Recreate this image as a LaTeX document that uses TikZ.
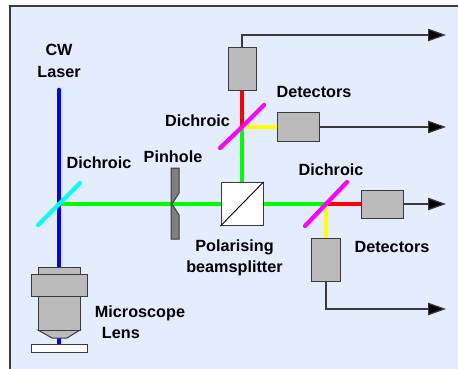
\documentclass[tikz,border=0pt]{standalone}
\usepackage{fontspec}
\setmainfont{Liberation Sans}
\usetikzlibrary{arrows.meta,positioning}
\definecolor{panel}{HTML}{E3EDFE}
\definecolor{framegray}{HTML}{3A3A3A}
\definecolor{partgray}{HTML}{BBBBBB}
\definecolor{pingray}{HTML}{808080}
\definecolor{beamblue}{HTML}{0000FF}
\definecolor{beamgreen}{HTML}{00FF00}
\definecolor{beamred}{HTML}{FF0000}
\definecolor{beamyellow}{HTML}{FFFF00}
\definecolor{mirrorcyan}{HTML}{00FFFF}
\definecolor{mirrorpink}{HTML}{FF00FF}
\tikzset{
  lbl/.style={inner sep=0pt, align=center, font=\fontsize{16.2}{21.5}\selectfont\bfseries, text=black},
  beam/.style={line width=4.6pt},
  mirror/.style={line width=4.2pt, line cap=round},
  detbox/.style={draw=framegray, fill=partgray, line width=1pt, inner sep=0pt},
  cubebox/.style={draw=framegray, fill=white, line width=1pt, minimum width=42pt, minimum height=43pt, inner sep=0pt},
  signal/.style={draw=framegray, line width=1.2pt, -{Triangle[length=18pt,width=12.5pt,fill=black]}},
  lenspart/.style={draw=framegray, fill=partgray, line width=1pt}
}

\begin{document}
\begin{tikzpicture}[x=1pt,y=-1pt]
  \useasboundingbox (0,0) rectangle (458,369);
  \fill[white] (0,0) rectangle (458,369);
  \fill[panel] (10,6) rectangle (458,369);
  \draw[framegray, line width=1.3pt] (10,369) -- (10,6) -- (458,6);

  % places where the beams meet
  \coordinate (split1) at (59,204);
  \coordinate (split2) at (242,127);
  \coordinate (split3) at (326,204);
  \coordinate (laser) at (59,90);
  \coordinate (sample) at (59,344);
  \coordinate (out1) at (446,35);
  \coordinate (out2) at (446,127);
  \coordinate (out3) at (446,204);
  \coordinate (out4) at (446,309);

  % parts that only need their size here, beams go in behind them
  \node[cubebox] (cube) at (242,204) {};
  \node[detbox, minimum width=28pt, minimum height=43pt] (det1) at (242,69.5) {};
  \node[detbox, minimum width=42pt, minimum height=29pt] (det2) at (298,127) {};
  \node[detbox, minimum width=42pt, minimum height=28pt] (det3) at (382,204) {};
  \node[detbox, minimum width=29pt, minimum height=43pt] (det4) at (326,259.5) {};

  % beams
  \draw[beamblue, beam, line cap=round] (laser) -- (sample);
  \draw[beamgreen, beam] (split1) -- (cube.west);
  \draw[beamgreen, beam] (cube.north) -- (split2);
  \draw[beamgreen, beam] (cube.east) -- (split3);
  \draw[beamred, beam] (split2) -- (det1.south);
  \draw[beamyellow, beam] (split2) -- (det2.west);
  \draw[beamred, beam] (split3) -- (det3.west);
  \draw[beamyellow, beam] (split3) -- (det4.north);

  % dichroics
  \draw[mirrorcyan, mirror] (38,225) -- (split1) -- (80,183);
  \draw[mirrorpink, mirror] (220,148) -- (split2) -- (264,105);
  \draw[mirrorpink, mirror] (305,226) -- (split3) -- (347,182);

  % redraw over beams
  \node[cubebox] at (cube) {};
  \draw[black, line width=0.9pt] (cube.south west) -- (cube.north east);
  \draw[draw=framegray, fill=pingray, line width=1pt]
    (171,168) -- (179,168) -- (179,193) -- (172,204) -- (179,215) -- (179,239) -- (171,239) -- cycle;

  % lens
  \draw[lenspart] (38,267) rectangle (80,274);
  \draw[lenspart] (38,330) -- (52,338) -- (67,338) -- (80,330) -- cycle;
  \draw[lenspart] (38,296) rectangle (80,330);
  \draw[lenspart] (31,274) rectangle (87,296);
  \draw[draw=framegray, fill=white, line width=1pt] (31,344) rectangle (87,352);

  % outputs
  \draw[signal] (det1.north) |- (out1);
  \draw[signal] (det2.east) -- (out2);
  \draw[signal] (det3.east) -- (out3);
  \draw[signal] (det4.south) |- (out4);

  % labels
  \node[lbl] (lasertxt) at (59,61) {CW\\Laser};
  \node[lbl] (dichroic1) at (99,163) {Dichroic};
  \node[lbl] (pinhole) at (173,157) {Pinhole};
  \node[lbl] (dichroic2) at (197.5,121) {Dichroic};
  \node[lbl] (dichroic3) at (331,170) {Dichroic};
  \node[lbl] (detectors1) at (314,92) {Detectors};
  \node[lbl] (detectors2) at (392,247) {Detectors};
  \node[lbl] (splittxt) at (234.5,258) {Polarising\\beamsplitter};
  \node[lbl, align=left] (lenstxt) at (140,322) {Microscope\\\hspace{7pt}Lens};
\end{tikzpicture}
\end{document}
